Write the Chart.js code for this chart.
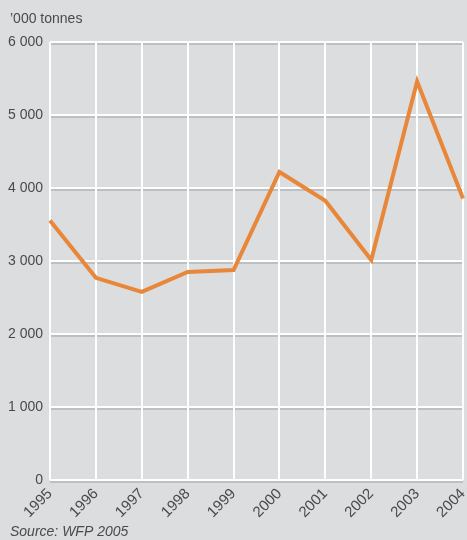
<!DOCTYPE html>
<html>
<head>
<meta charset="utf-8">
<script src="https://cdn.jsdelivr.net/npm/chart.js@4.4.0/dist/chart.umd.min.js"></script>
<style>
    html, body { margin: 0; padding: 0; background: #dcdddf; }
    #wrap { width: 467px; height: 540px; position: relative; }
</style>
</head>
<body>
<div id="wrap"><canvas id="food-chart"></canvas></div>
<script>
const years = ['1995', '1996', '1997', '1998', '1999', '2000', '2001', '2002', '2003', '2004'];
const tonnes = [3555, 2770, 2578, 2850, 2877, 4220, 3825, 3014, 5460, 3855];
const yTicks = [0, 1000, 2000, 3000, 4000, 5000, 6000];

const fontFamily = "'Liberation Sans', Arial, sans-serif";
const textColor = '#4a4a4a';

// grey background, grey "shadow" under each horizontal grid line, and the captions
const chartDecor = {
    id: 'chartDecor',
    beforeDraw: (chart) => {
        const ctx = chart.ctx;
        const area = chart.chartArea;
        const y = chart.scales.y;
        ctx.save();
        ctx.fillStyle = '#dcdddf';
        ctx.fillRect(0, 0, chart.width, chart.height);
        ctx.strokeStyle = '#b4b5b8';
        ctx.lineWidth = 1.5;
        yTicks.forEach(v => {
            const py = Math.round(y.getPixelForValue(v)) + 2;
            ctx.beginPath();
            ctx.moveTo(area.left, py);
            ctx.lineTo(area.right, py);
            ctx.stroke();
        });
        ctx.restore();
    },
    afterDraw: (chart) => {
        const ctx = chart.ctx;
        ctx.save();
        ctx.fillStyle = textColor;
        ctx.textBaseline = 'middle';
        ctx.textAlign = 'left';
        ctx.font = `14px ${fontFamily}`;
        ctx.fillText('\u2019000 tonnes', 10, 19);
        ctx.font = `italic 14px ${fontFamily}`;
        ctx.fillText('Source: WFP 2005', 10, 532);
        ctx.restore();
    }
};

const drawFoodChart = () => {
    return new Chart(document.getElementById('food-chart').getContext('2d'), {
        type: 'line',
        data: {
            labels: years,
            datasets: [{
                label: 'Food aid',
                data: tonnes,
                fill: false,
                borderColor: '#e8873a',
                borderWidth: 4,
                pointRadius: 0,
                tension: 0,
                borderJoinStyle: 'miter',
            }]
        },
        options: {
            responsive: false,
            animation: false,
            devicePixelRatio: 1,
            layout: {
                padding: { top: 42, right: 4, bottom: 20, left: 0 }
            },
            plugins: {
                legend: { display: false },
                tooltip: { enabled: false },
            },
            scales: {
                x: {
                    offset: false,
                    border: { display: false },
                    grid: { color: '#ffffff', lineWidth: 2, drawTicks: false },
                    ticks: {
                        color: textColor,
                        font: { family: fontFamily, size: 15 },
                        minRotation: 45,
                        maxRotation: 45,
                        padding: 5,
                    },
                    afterFit: (scale) => {
                        scale.height = 40;
                        scale.paddingLeft = 0;
                        scale.paddingRight = 0;
                    },
                },
                y: {
                    min: 0,
                    max: 6000,
                    border: { display: false },
                    grid: { color: '#ffffff', lineWidth: 2, drawTicks: false },
                    afterBuildTicks: (scale) => { scale.ticks = yTicks.map(v => ({ value: v })); },
                    ticks: {
                        color: textColor,
                        font: { family: fontFamily, size: 14 },
                        padding: 7,
                        callback: (v) => v === 0 ? '0' : (v / 1000) + ' 000',
                    },
                    afterFit: (scale) => {
                        scale.width = 50;
                        scale.paddingTop = 0;
                        scale.paddingBottom = 0;
                    },
                }
            }
        },
        plugins: [chartDecor]
    });
};

const canvas = document.getElementById('food-chart');
canvas.width = 467;
canvas.height = 540;
drawFoodChart();
</script>
</body>
</html>
